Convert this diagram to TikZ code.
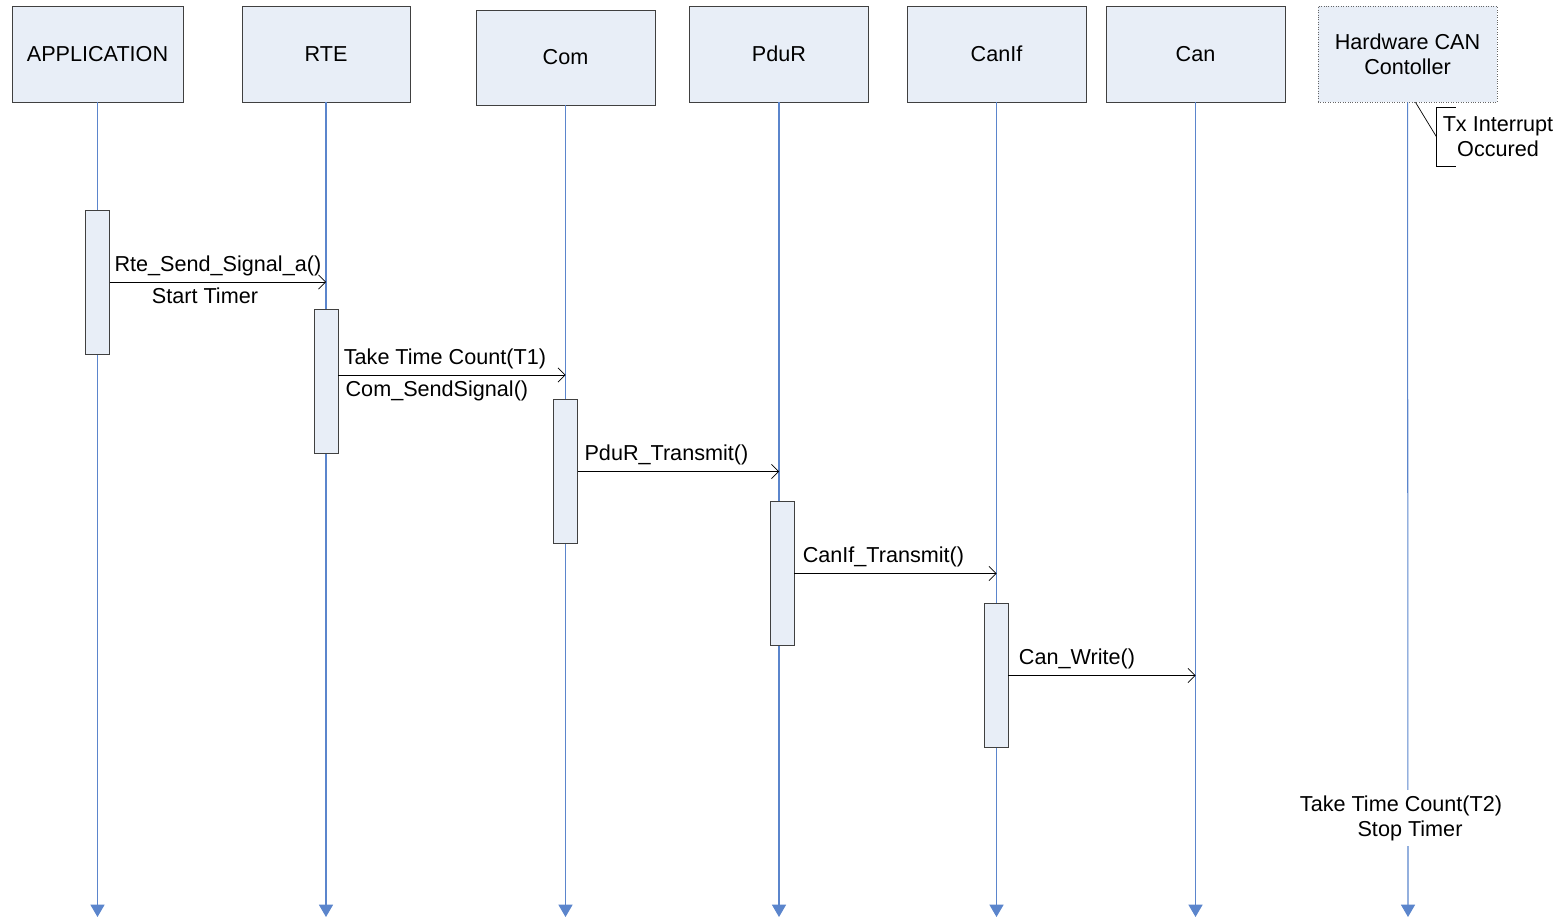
\documentclass[tikz,border=0pt]{standalone}
\usepackage{fontspec}
\setmainfont{Liberation Sans}
\usetikzlibrary{arrows.meta}
\definecolor{boxfill}{HTML}{E8EEF7}
\definecolor{lifeblue}{HTML}{5B85CC}

\begin{document}
\begin{tikzpicture}[x=0.02cm,y=-0.02cm,font=\fontsize{12.3}{14.3}\selectfont,
	obj/.style={draw=black!75,fill=boxfill,minimum width=3.58cm,minimum height=1.92cm,align=center},
	act/.style={draw=black!75,fill=boxfill,minimum width=0.48cm,minimum height=2.88cm,inner sep=0pt},
	life/.style={draw=lifeblue,line width=0.6pt,-{Triangle[width=8pt,length=7pt]}},
	msg/.style={-{Straight Barb[length=4pt,width=8pt]}}]
	\useasboundingbox (0,0) rectangle (1564,918);
	\node[obj,minimum width=3.42cm] (app) at (97.5,54) {APPLICATION};
	\node[obj,minimum width=3.36cm] (rte) at (326,54) {RTE};
	\node[obj,minimum height=1.90cm] (com) at (565.5,57.5) {Com};
	\node[obj] (pdur) at (779,54) {PduR};
	\node[obj] (canif) at (996.5,54) {CanIf};
	\node[obj] (can) at (1195.5,54) {Can};
	\node[obj,draw=black!60,densely dotted] (hw) at (1407.5,54) {Hardware CAN\\Contoller};
	% lifelines
	\coordinate (e_app) at (97.5,917);
	\coordinate (e_rte) at (326,917);
	\coordinate (e_com) at (565.5,917);
	\coordinate (e_pdur) at (779,917);
	\coordinate (e_canif) at (996.5,917);
	\coordinate (e_can) at (1195.5,917);
	\coordinate (e_hw) at (1408,917);
	\draw[life] (app) -- (e_app);
	\draw[life] (rte) -- (e_rte);
	\draw[life] (com) -- (e_com);
	\draw[life] (pdur) -- (e_pdur);
	\draw[life] (canif) -- (e_canif);
	\draw[life] (can) -- (e_can);
	\draw[life] (hw) -- (e_hw);
	% activations
	\node[act] (a_app) at (97.5,282) {};
	\node[act] (a_rte) at (326,381.5) {};
	\node[act] (a_com) at (565.5,471.5) {};
	\node[act] (a_pdur) at (782,573.5) {};
	\node[act] (a_canif) at (996,675.5) {};
	% messages
	\draw[msg] (a_app.east) -- (a_app.east -| rte.south) node[midway,above] {Rte\_Send\_Signal\_a()} node[midway,below,xshift=-0.26cm] {Start Timer};
	\draw[msg] ([yshift=0.13cm]a_rte.east) -- ([yshift=0.13cm]a_rte.east -| com.south) node[midway,above,xshift=-0.14cm] {Take Time Count(T1)} node[midway,below,xshift=-0.3cm] {Com\_SendSignal()};
	\draw[msg] (a_com.east) -- (a_com.east -| pdur.south) node[midway,above,xshift=-0.24cm] {PduR\_Transmit()};
	\draw[msg] (a_pdur.east) -- (a_pdur.east -| canif.south) node[midway,above,xshift=-0.24cm] {CanIf\_Transmit()};
	\draw[msg] (a_canif.east) -- (a_canif.east -| can.south) node[midway,above,xshift=-0.5cm] {Can\_Write()};
	% notes
	\node[align=center,inner ysep=5pt] (tx) at (1498,137) {Tx Interrupt\\Occured};
	\draw ([xshift=0.38cm]tx.north west) -- (tx.north west) -- (tx.south west) -- ([xshift=0.38cm]tx.south west);
	\draw ([xshift=0.16cm]hw.south) -- (tx.west);
	\node[align=center,fill=white] (t2) at (1401,818) {Take Time Count(T2)\\\hspace*{0.36cm}Stop Timer};
\end{tikzpicture}
\end{document}
